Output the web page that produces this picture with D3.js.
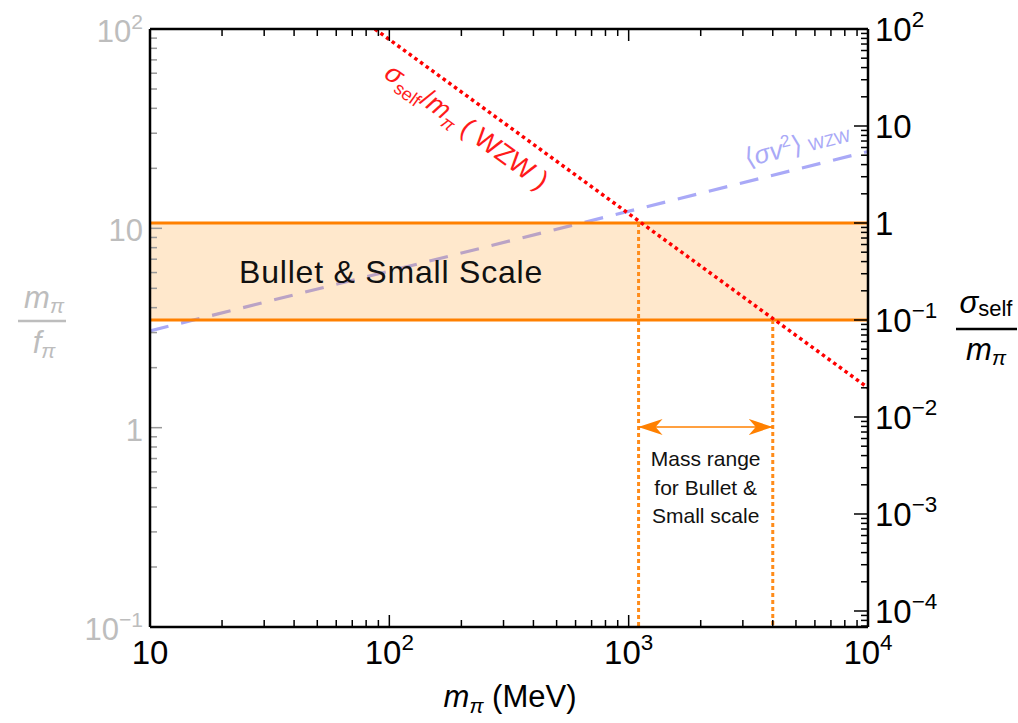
<!DOCTYPE html>
<html><head><meta charset="utf-8">
<script src="https://cdn.jsdelivr.net/npm/d3@7"></script>
<style>body{margin:0;background:#fff}svg{font-family:"Liberation Sans",Arial,sans-serif}</style>
</head><body>
<svg id="c" width="1018" height="723"></svg>
<script>
// ---- data ----
const xTicks = [10, 100, 1000, 10000];
const xTickLabels = [["10",""],["10","2"],["10","3"],["10","4"]];
const leftTicks = [0.1, 1, 10, 100];
const leftTickLabels = [["10","\u22121"],["1",""],["10",""],["10","2"]];
const rightTicks = [1e-4, 1e-3, 1e-2, 1e-1, 1, 10, 100];
const rightTickLabels = [["10","\u22124"],["10","\u22123"],["10","\u22122"],["10","\u22121"],["1",""],["10",""],["10","2"]];
const bandRight = [0.1, 1];                 // sigma/m band (right axis)
const redLine = [[87, 100], [10000, 0.0200]];   // sigma_self/m_pi (WZW), right axis
const blueLine = [[10, 3.06], [10000, 24.3]];   // <sigma v^2> WZW, left axis
const massRange = [1100, 4000];              // MeV

// ---- scales ----
const x = d3.scaleLog().domain([10, 1e4]).range([150, 868]);
const yL = d3.scaleLog().domain([0.1, 100]).range([627, 29]);
const yR = d3.scaleLog().domain([Math.pow(10, -4.165), 100]).range([627, 29]);
const svg = d3.select("#c");
const x0 = 150, x1 = 868, y0 = 29, y1 = 627;

const defs = svg.append("defs");
defs.append("clipPath").attr("id","clip")
  .append("rect").attr("x",x0).attr("y",y0).attr("width",x1-x0).attr("height",y1-y0);
defs.append("marker").attr("id","ah").attr("viewBox","0 0 24 16").attr("refX",24).attr("refY",8)
  .attr("markerWidth",24).attr("markerHeight",16).attr("markerUnits","userSpaceOnUse").attr("orient","auto-start-reverse")
  .append("path").attr("d","M0,0 L24,8 L0,16 L7,8 Z").attr("fill","#ff8000");

const plot = svg.append("g").attr("clip-path","url(#clip)");

const lineL = d3.line().x(d=>x(d[0])).y(d=>yL(d[1]));
const lineR = d3.line().x(d=>x(d[0])).y(d=>yR(d[1]));
plot.append("path").attr("d", lineL(blueLine)).attr("fill","none")
  .attr("stroke","#a9a9f7").attr("stroke-width",3.2).attr("stroke-dasharray","19,13");

plot.append("rect").attr("x",x0).attr("width",x1-x0)
  .attr("y",yR(bandRight[1])).attr("height",yR(bandRight[0])-yR(bandRight[1]))
  .attr("fill","#ff8c00").attr("fill-opacity",0.2);
bandRight.forEach(v=>{
  plot.append("line").attr("x1",x0).attr("x2",x1).attr("y1",yR(v)).attr("y2",yR(v))
    .attr("stroke","#ff8000").attr("stroke-width",3);
});

massRange.forEach((m,i)=>{
  plot.append("line").attr("x1",x(m)).attr("x2",x(m)).attr("y1",yR(bandRight[1-i])).attr("y2",y1)
    .attr("stroke","#ff8c1a").attr("stroke-width",3).attr("stroke-dasharray","4,3");
});

plot.append("path").attr("d", lineR(redLine)).attr("fill","none")
  .attr("stroke","#ff0000").attr("stroke-width",3.5).attr("stroke-dasharray","3.5,3.5");

const ay = 427;
svg.append("line").attr("x1",x(massRange[0])).attr("x2",x(massRange[1])).attr("y1",ay).attr("y2",ay)
  .attr("stroke","#ff8000").attr("stroke-width",1.5)
  .attr("marker-start","url(#ah)").attr("marker-end","url(#ah)");

svg.append("text").attr("x",239).attr("y",283).attr("font-size",32).attr("letter-spacing",0.8).attr("fill","#111").text("Bullet & Small Scale");
const mr = svg.append("text").attr("font-size",21).attr("fill","#111").attr("text-anchor","middle");
["Mass range","for Bullet &","Small scale"].forEach((t,i)=>{
  mr.append("tspan").attr("x",(x(massRange[0])+x(massRange[1]))/2).attr("y",466+i*28.5).text(t);
});

{
  const ang = Math.atan2(yR(redLine[1][1])-yR(redLine[0][1]), x(redLine[1][0])-x(redLine[0][0]))*180/Math.PI;
  const t = svg.append("text").attr("transform",`translate(467,126) rotate(${ang})`)
    .attr("text-anchor","middle").attr("dy","0.35em").attr("fill","#ff1a1a").attr("font-size",27);
  t.append("tspan").attr("font-style","italic").text("\u03c3");
  t.append("tspan").attr("font-size",18).attr("dy",6).text("self");
  t.append("tspan").attr("dy",-6).text("/");
  t.append("tspan").attr("font-style","italic").text("m");
  t.append("tspan").attr("font-size",18).attr("font-style","italic").attr("dy",6).text("\u03c0");
  t.append("tspan").attr("dy",-6).text(" ( WZW )");
}
{
  const ang = Math.atan2(yL(blueLine[1][1])-yL(blueLine[0][1]), x(blueLine[1][0])-x(blueLine[0][0]))*180/Math.PI;
  const t = svg.append("text").attr("transform",`translate(797,145) rotate(${ang})`)
    .attr("text-anchor","middle").attr("dy","0.35em").attr("fill","#a9a9f7").attr("font-size",26);
  t.append("tspan").text("\u27e8");
  t.append("tspan").attr("font-style","italic").text("\u03c3v");
  t.append("tspan").attr("font-size",17).attr("dy",-10).text("2");
  t.append("tspan").attr("dy",10).text("\u27e9 ");
  t.append("tspan").attr("font-size",17).text("WZW");
}

function minorTicks(scale){
  const [a,b] = scale.domain(); const out=[];
  for(let e=Math.floor(Math.log10(a)); e<=Math.ceil(Math.log10(b)); e++){
    for(let k=1;k<10;k++){ const v=k*Math.pow(10,e); if(v>=a*0.999 && v<=b*1.001) out.push({v, major:k===1}); }
  }
  return out;
}
const ax = svg.append("g");
minorTicks(x).forEach(t=>{
  const L = t.major?12:7;
  ax.append("line").attr("x1",x(t.v)).attr("x2",x(t.v)).attr("y1",y1).attr("y2",y1-L).attr("stroke","#000").attr("stroke-width",1.5);
  ax.append("line").attr("x1",x(t.v)).attr("x2",x(t.v)).attr("y1",y0).attr("y2",y0+L).attr("stroke","#000").attr("stroke-width",1.5);
});
minorTicks(yL).forEach(t=>{
  const L = t.major?12:7;
  ax.append("line").attr("x1",x0).attr("x2",x0+L).attr("y1",yL(t.v)).attr("y2",yL(t.v)).attr("stroke","#999").attr("stroke-width",1.5);
});
minorTicks(yR).forEach(t=>{
  const L = t.major?14:7;
  ax.append("line").attr("x1",x1).attr("x2",x1-L).attr("y1",yR(t.v)).attr("y2",yR(t.v)).attr("stroke","#000").attr("stroke-width",1.5);
});
[[x0,y1,x1,y1],[x0,y0,x1,y0],[x0,y0,x0,y1],[x1,y0,x1,y1]].forEach(s=>{
  ax.append("line").attr("x1",s[0]).attr("y1",s[1]).attr("x2",s[2]).attr("y2",s[3]).attr("stroke","#000").attr("stroke-width",2.5);
});

function powLabel(g, px, py, lab, anchor, color, fs){
  const t = g.append("text").attr("x",px).attr("y",py).attr("text-anchor",anchor).attr("fill",color).attr("font-size",fs);
  t.append("tspan").text(lab[0]);
  if(lab[1]) t.append("tspan").attr("font-size",fs*0.68).attr("dy",-fs*0.42).text(lab[1]);
  return t;
}
xTicks.forEach((v,i)=> powLabel(ax, x(v), 664, xTickLabels[i], "middle", "#000", 33));
leftTicks.forEach((v,i)=> powLabel(ax, 143, yL(v)+13, leftTickLabels[i], "end", "#bdbdbd", 31));
rightTicks.forEach((v,i)=> powLabel(ax, 875, yR(v)+12, rightTickLabels[i], "start", "#000", 33));

{
  const t = svg.append("text").attr("x",510).attr("y",707).attr("text-anchor","middle").attr("font-size",31).attr("fill","#000");
  t.append("tspan").attr("font-style","italic").text("m");
  t.append("tspan").attr("font-style","italic").attr("font-size",21).attr("dy",6).text("\u03c0");
  t.append("tspan").attr("dy",-6).text(" (MeV)");
}
{
  const g = svg.append("g").attr("fill","#bdbdbd");
  const n = g.append("text").attr("x",44).attr("y",308).attr("text-anchor","middle").attr("font-size",31).attr("font-style","italic");
  n.append("tspan").text("m"); n.append("tspan").attr("font-size",21).attr("dy",5).text("\u03c0");
  g.append("line").attr("x1",18).attr("x2",66).attr("y1",321).attr("y2",321).attr("stroke","#bdbdbd").attr("stroke-width",2.5);
  const d = g.append("text").attr("x",44).attr("y",353).attr("text-anchor","middle").attr("font-size",31).attr("font-style","italic");
  d.append("tspan").text("f"); d.append("tspan").attr("font-size",21).attr("dy",5).text("\u03c0");
}
{
  const g = svg.append("g").attr("fill","#000");
  const n = g.append("text").attr("x",986).attr("y",313).attr("text-anchor","middle").attr("font-size",31);
  n.append("tspan").attr("font-style","italic").text("\u03c3"); n.append("tspan").attr("font-size",22).attr("dy",3).text("self");
  g.append("line").attr("x1",956).attr("x2",1017).attr("y1",329).attr("y2",329).attr("stroke","#000").attr("stroke-width",2.5);
  const d = g.append("text").attr("x",986).attr("y",360).attr("text-anchor","middle").attr("font-size",31).attr("font-style","italic");
  d.append("tspan").text("m"); d.append("tspan").attr("font-size",21).attr("dy",5).text("\u03c0");
}
</script>
</body></html>
